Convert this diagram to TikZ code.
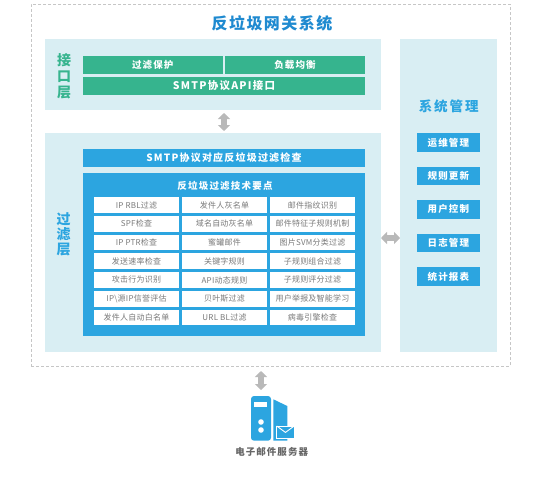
\documentclass[tikz,border=0pt]{standalone}
\usepackage{fontspec}
\setmainfont{Noto Sans CJK SC}
\usetikzlibrary{arrows.meta, positioning}
\definecolor{panelteal}{HTML}{D9EEF3}
\definecolor{layergreen}{HTML}{36B48E}
\definecolor{layerblue}{HTML}{2CA5E0}
\definecolor{titleblue}{HTML}{1F8AD0}
\definecolor{cellgray}{HTML}{7A7A7A}
\definecolor{linkgray}{HTML}{B9B9B9}
\newcommand{\sized}[2]{\fontsize{#1}{#1}\selectfont\addfontfeature{LetterSpace=#2}}

\begin{document}
\begin{tikzpicture}[
  x=1pt, y=-1pt,
  box/.style={inner sep=0pt, outer sep=0pt, text centered, anchor=north west},
  panel/.style={box, fill=panelteal},
  greenbox/.style={box, fill=layergreen, text=white, minimum height=18pt, font=\bfseries\sized{9.5}{12}},
  bluebox/.style={box, fill=layerblue, text=white, minimum height=18pt, font=\bfseries\sized{9.5}{12}},
  cell/.style={box, fill=white, text=cellgray, minimum width=85pt, minimum height=15.7pt, font=\sized{8}{3}},
  mgmtbtn/.style={bluebox, minimum width=63.3pt, minimum height=18.4pt, font=\bfseries\sized{9.5}{12}},
  sidelabel/.style={inner sep=0pt, align=center, font=\bfseries\sized{14}{0}},
  graylink/.style={{Triangle[width=12pt,length=6pt]}-{Triangle[width=12pt,length=6pt]}, linkgray, line width=6pt},
]
\useasboundingbox (0,0) rectangle (540,479);

\node[box, draw=gray!45, densely dashed, minimum width=479pt, minimum height=362pt] (outer) at (31,4) {};
\node[inner sep=0pt, text=titleblue, font=\bfseries\sized{16}{9}] (title) at (272,23) {反垃圾网关系统};

\node[panel, minimum width=336pt, minimum height=71pt] (iface) at (45,39) {};
\node[panel, minimum width=336pt, minimum height=218.5pt] (filter) at (45,133) {};
\node[panel, minimum width=97pt, minimum height=312.7pt] (mgmt) at (400,39) {};

% interface layer
\node[sidelabel, text=layergreen] (ifacelabel) at (64,76) {接\\[2pt]口\\[2pt]层};
\node[greenbox, minimum width=139.5pt] (protect) at (83,56) {过滤保护};
\node[greenbox, minimum width=140pt, right=2.5pt of protect.north east, anchor=north west] (balance) {负载均衡};
\node[greenbox, minimum width=282pt, below=3pt of protect.south west, anchor=north west, font=\bfseries\sized{10.5}{12}] (smtpapi) {SMTP协议API接口};

% filter layer
\node[sidelabel, text=layerblue] (filterlabel) at (63.5,234) {过\\[1pt]滤\\[1pt]层};
\node[bluebox, minimum width=282pt, font=\bfseries\sized{10}{12}] (smtpcheck) at (83,149) {SMTP协议对应反垃圾过滤检查};
\node[box, fill=layerblue, minimum width=282pt, minimum height=162.5pt] (techbox) at (83,173) {};
\node[inner sep=0pt, text=white, font=\bfseries\sized{9.5}{13}] (techtitle) at (225,186) {反垃圾过滤技术要点};

\node[cell] (a1) at (94,197.3) {IP RBL过滤};
\node[cell, below=3pt of a1.south west, anchor=north west] (a2) {SPF检查};
\node[cell, below=3pt of a2.south west, anchor=north west] (a3) {IP PTR检查};
\node[cell, below=3pt of a3.south west, anchor=north west] (a4) {发送速率检查};
\node[cell, below=3pt of a4.south west, anchor=north west] (a5) {攻击行为识别};
\node[cell, below=3pt of a5.south west, anchor=north west] (a6) {IP\textbackslash 源IP信誉评估};
\node[cell, below=3pt of a6.south west, anchor=north west] (a7) {发件人自动白名单};

\node[cell, right=3pt of a1.north east, anchor=north west] (b1) {发件人灰名单};
\node[cell, below=3pt of b1.south west, anchor=north west] (b2) {域名自动灰名单};
\node[cell, below=3pt of b2.south west, anchor=north west] (b3) {蜜罐邮件};
\node[cell, below=3pt of b3.south west, anchor=north west] (b4) {关键字规则};
\node[cell, below=3pt of b4.south west, anchor=north west] (b5) {API动态规则};
\node[cell, below=3pt of b5.south west, anchor=north west] (b6) {贝叶斯过滤};
\node[cell, below=3pt of b6.south west, anchor=north west] (b7) {URL BL过滤};

\node[cell, right=3pt of b1.north east, anchor=north west] (c1) {邮件指纹识别};
\node[cell, below=3pt of c1.south west, anchor=north west] (c2) {邮件特征子规则机制};
\node[cell, below=3pt of c2.south west, anchor=north west] (c3) {图片SVM分类过滤};
\node[cell, below=3pt of c3.south west, anchor=north west] (c4) {子规则组合过滤};
\node[cell, below=3pt of c4.south west, anchor=north west] (c5) {子规则评分过滤};
\node[cell, below=3pt of c5.south west, anchor=north west] (c6) {用户举报及智能学习};
\node[cell, below=3pt of c6.south west, anchor=north west] (c7) {病毒引擎检查};

% system management
\node[inner sep=0pt, text=layerblue, font=\bfseries\sized{13.5}{14}] (mgmtlabel) at (448.7,106) {系统管理};
\node[mgmtbtn] (ops) at (416.7,133.3) {运维管理};
\node[mgmtbtn, below=15pt of ops.south west, anchor=north west] (rules) {规则更新};
\node[mgmtbtn, below=15pt of rules.south west, anchor=north west] (users) {用户控制};
\node[mgmtbtn, below=15pt of users.south west, anchor=north west] (logs) {日志管理};
\node[mgmtbtn, below=15.5pt of logs.south west, anchor=north west] (stats) {统计报表};

% mail server
\node[box, fill=layerblue, rounded corners=3pt, minimum width=20pt, minimum height=44.7pt] (server) at (251,396) {};
\node[box, fill=white, minimum width=13pt, minimum height=4.7pt] (slot) at (254,402) {};
\node[circle, fill=white, inner sep=0pt, minimum size=5.6pt] (led1) at (261,422) {};
\node[circle, fill=white, inner sep=0pt, minimum size=5.6pt] (led2) at (261,430) {};
\fill[layerblue] (273.3,399.3) -- (287.3,406) -- (287.3,440.5) -- (273.3,440.5) -- cycle;
\node[box, fill=layerblue, draw=white, line width=1pt, minimum width=17.5pt, minimum height=12.8pt] (mail) at (276.7,426) {};
\draw[white, line width=0.9pt] (mail.north west) -- (mail.center) -- (mail.north east);
\node[inner sep=0pt, text=black!60, font=\bfseries\sized{9.5}{11}] (serverlabel) at (271.7,452) {电子邮件服务器};

% links between the parts
\coordinate (hlink) at (390,238);
\draw[graylink, shorten <=3pt, shorten >=2pt] (smtpapi.south |- iface.south) -- (smtpapi.south |- filter.north);
\draw[graylink] (filter.east |- hlink) -- (mgmt.west |- hlink);
\draw[graylink, shorten <=5pt, shorten >=6pt] (server.north |- outer.south) -- (server.north);
\end{tikzpicture}
\end{document}
